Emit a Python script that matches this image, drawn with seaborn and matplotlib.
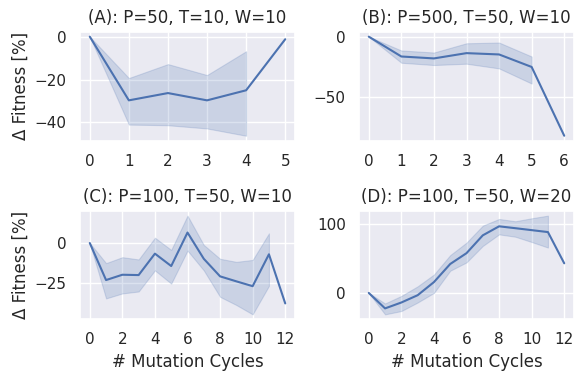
import numpy as np
import pandas as pd
import matplotlib
matplotlib.use("Agg")
import matplotlib.pyplot as plt
import seaborn as sns

titles = ["(A): P=50, T=10, W=10", "(B): P=500, T=50, W=10",
          "(C): P=100, T=50, W=10", "(D): P=100, T=50, W=20"]

a_mean = [0, -29.7, -26.3, -29.7, -25.0, -1.2]
a_hi = [0, -19.3, -12.8, -17.9, -6.8, np.nan]
a_lo = [0, -41.0, -41.3, -42.8, -46.2, np.nan]

b_mean = [0, -16.5, -18.1, -13.7, -14.8, -25.2, -82.4]
b_hi = [0, -11.5, -13.2, -5.5, -4.9, -16.5, np.nan]
b_lo = [0, -21.7, -23.6, -22.5, -26.4, -39.0, np.nan]

c_mean = [0, -23.0, -19.7, -19.9, -6.6, -14.3, 6.5, -9.8, -20.7, -23.8, -26.8, -7.0, -37.5]
c_hi = [0, -12.5, -8.8, -10.2, 3.3, -4.3, 17.0, -1.2, -9.8, -11.7, -10.5, 6.0, np.nan]
c_lo = [0, -34.4, -31.3, -30.1, -17.0, -25.2, -4.7, -17.0, -33.4, -38.5, -44.3, -26.6, np.nan]

d_mean = [0, -22.3, -13.8, -3.3, 15.6, 41.7, 57.3, 83.0, 96.0, 93.3, 90.5, 87.7, 42.7]
d_hi = [0, -15.2, -4.3, 9.5, 26.5, 54.5, 72.5, 97.0, 106.6, 103.3, 107.6, 111.4, np.nan]
d_lo = [0, -30.9, -26.1, -13.8, 0.0, 32.0, 44.0, 67.7, 84.4, 81.0, 73.4, 65.4, np.nan]

panels = [(a_mean, a_lo, a_hi), (b_mean, b_lo, b_hi), (c_mean, c_lo, c_hi), (d_mean, d_lo, d_hi)]

sns.set_theme()
color = sns.color_palette()[0]

fig = plt.figure(figsize=(5.83, 3.83), dpi=100)
W, H = 583, 383
boxes = [(80, 31.7, 295, 140.7), (359, 31.7, 574, 140.7),
         (80, 210.7, 295, 319.3), (359, 210.7, 574, 319.3)]

for i, ((mean, lo, hi), title, (l, t, r, b)) in enumerate(zip(panels, titles, boxes)):
    ax = fig.add_axes([l / W, 1 - b / H, (r - l) / W, (b - t) / H])
    df = pd.DataFrame({"cycle": np.arange(len(mean)), "mean": mean, "lo": lo, "hi": hi})
    sns.lineplot(data=df, x="cycle", y="mean", ax=ax, color=color)
    ax.fill_between(df["cycle"], df["lo"], df["hi"], color=color, alpha=0.2, linewidth=0.8)
    ax.set_title(title)
    ax.set_xlabel("# Mutation Cycles" if i >= 2 else "")
    ax.set_ylabel("Δ Fitness [%]" if i % 2 == 0 else "")
    if i >= 2:
        ax.set_xticks(np.arange(0, 13, 2))
    else:
        ax.set_xticks(np.arange(len(mean)))

fig.savefig("out.png", dpi=100)
